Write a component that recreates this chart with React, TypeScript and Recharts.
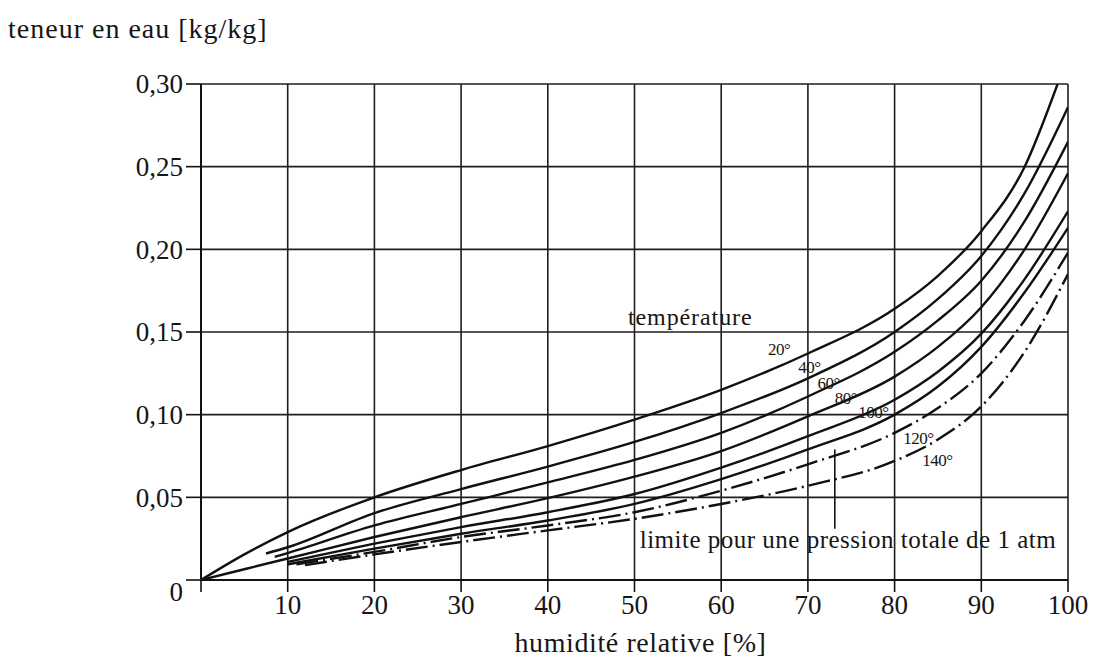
import React from "react";
import {
  LineChart,
  Line,
  XAxis,
  YAxis,
  CartesianGrid,
  ReferenceDot,
  ReferenceLine,
} from "recharts";

// humidité relative [%] / teneur en eau [kg/kg]
const rhTicks = [0, 10, 20, 30, 40, 50, 60, 70, 80, 90, 100];
const wTicks = [0, 0.05, 0.1, 0.15, 0.2, 0.25, 0.3];

const rhCommon = [20, 30, 40, 50, 60, 70, 80, 85, 90, 95, 100];

const rh20 = [0, 5, 10, ...rhCommon.slice(0, -1), 98.8];
const w20 = [0, 0.0155, 0.029, 0.05, 0.0665, 0.081, 0.097, 0.115, 0.137, 0.164, 0.184, 0.211, 0.25, 0.3];

const rh40 = [7.5, 10, ...rhCommon];
const w40 = [0.016, 0.0198, 0.0405, 0.055, 0.0686, 0.0835, 0.101, 0.122, 0.15, 0.17, 0.196, 0.234, 0.286];

const rh60 = [8.5, 10, ...rhCommon];
const w60 = [0.014, 0.0163, 0.033, 0.046, 0.059, 0.0726, 0.089, 0.111, 0.138, 0.157, 0.181, 0.217, 0.265];

const rh80 = [0, 10, ...rhCommon];
const w80 = [0, 0.013, 0.026, 0.038, 0.0495, 0.0625, 0.078, 0.099, 0.123, 0.141, 0.165, 0.2, 0.246];

const rh100 = [10, ...rhCommon];
const w100 = [0.011, 0.022, 0.032, 0.041, 0.052, 0.068, 0.087, 0.109, 0.126, 0.149, 0.182, 0.223];

const rhLimit = [10, ...rhCommon];
const wLimit = [0.0095, 0.019, 0.028, 0.036, 0.046, 0.061, 0.079, 0.1, 0.117, 0.141, 0.174, 0.213];

const rh120 = [11, ...rhCommon];
const w120 = [0.0095, 0.017, 0.026, 0.033, 0.041, 0.054, 0.07, 0.089, 0.104, 0.125, 0.157, 0.198];

const rh140 = [12, ...rhCommon];
const w140 = [0.009, 0.0155, 0.023, 0.03, 0.037, 0.046, 0.057, 0.072, 0.085, 0.105, 0.138, 0.185];

// étiquettes des courbes: [texte, rh, w]
const tempLabels: [string, number, number][] = [
  ["20°", 65.4, 0.136],
  ["40°", 68.9, 0.125],
  ["60°", 71.1, 0.1155],
  ["80°", 73.1, 0.1065],
  ["100°", 75.8, 0.098],
  ["120°", 81.0, 0.0823],
  ["140°", 83.2, 0.069],
];
const leaderRh = 73.1;
const leaderW = [0.031, 0.079];

const toPoints = (xs: number[], ys: number[]) => xs.map((rh, i) => ({ rh, w: ys[i] }));

const curves = [
  { name: "20°", data: toPoints(rh20, w20), dash: undefined },
  { name: "40°", data: toPoints(rh40, w40), dash: undefined },
  { name: "60°", data: toPoints(rh60, w60), dash: undefined },
  { name: "80°", data: toPoints(rh80, w80), dash: undefined },
  { name: "100°", data: toPoints(rh100, w100), dash: undefined },
  { name: "limite", data: toPoints(rhLimit, wLimit), dash: undefined },
  { name: "120°", data: toPoints(rh120, w120), dash: "22 5 2 5" },
  { name: "140°", data: toPoints(rh140, w140), dash: "22 5 2 5" },
];

const FONT = "'Liberation Serif', 'Times New Roman', serif";
const INK = "#161616";

const XTick = ({ x, y, payload }: any) =>
  payload.value === 0 ? null : (
    <text x={x} y={y} dy="0.71em" textAnchor="middle" fontFamily={FONT} fontSize={27} fill={INK}>
      {payload.value}
    </text>
  );

const YTick = ({ x, y, payload }: any) => (
  <text
    x={x}
    y={payload.value === 0 ? y + 12 : y}
    dy="0.35em"
    textAnchor="end"
    fontFamily={FONT}
    fontSize={27}
    fill={INK}
  >
    {payload.value === 0 ? "0" : payload.value.toFixed(2).replace(".", ",")}
  </text>
);

const textAt = (label: string, size: number, spacing = 0) => (p: any) => (
  <text x={p.cx} y={p.cy} fontFamily={FONT} fontSize={size} letterSpacing={spacing} fill={INK}>
    {label}
  </text>
);

export default function App() {
  return (
    <div style={{ position: "absolute", left: 0, top: 0, width: 1097, height: 657, background: "#fff" }}>
      <LineChart width={1097} height={657} margin={{ top: 84, right: 29, bottom: 0, left: 0 }}>
        <CartesianGrid stroke="#1e1e1e" strokeWidth={1.6} />
        <XAxis
          type="number"
          dataKey="rh"
          domain={[0, 100]}
          ticks={rhTicks}
          height={77}
          tickSize={12}
          tickMargin={3}
          tick={<XTick />}
          axisLine={{ stroke: "#111", strokeWidth: 2 }}
          tickLine={{ stroke: "#111", strokeWidth: 1.6 }}
          allowDataOverflow
          label={{
            content: (p: any) => (
              <text
                x={p.viewBox.x + p.viewBox.width / 2 + 6}
                y={p.viewBox.y + 72}
                textAnchor="middle"
                fontFamily={FONT}
                fontSize={28}
                letterSpacing={0.6}
                fill={INK}
              >
                humidité relative [%]
              </text>
            ),
          }}
        />
        <YAxis
          type="number"
          domain={[0, 0.3]}
          ticks={wTicks}
          width={201}
          tickSize={15}
          tickMargin={3}
          tick={<YTick />}
          axisLine={{ stroke: "#111", strokeWidth: 2 }}
          tickLine={{ stroke: "#111", strokeWidth: 1.6 }}
          allowDataOverflow
          label={{
            content: (p: any) => (
              <text x={8} y={p.viewBox.y - 46} fontFamily={FONT} fontSize={28} letterSpacing={1} fill={INK}>
                teneur en eau [kg/kg]
              </text>
            ),
          }}
        />
        {curves.map((c) => (
          <Line
            key={c.name}
            data={c.data}
            dataKey="w"
            type="monotone"
            stroke="#111"
            strokeWidth={2.4}
            strokeDasharray={c.dash}
            dot={false}
            activeDot={false}
            isAnimationActive={false}
          />
        ))}
        <ReferenceLine
          segment={[
            { x: leaderRh, y: leaderW[0] },
            { x: leaderRh, y: leaderW[1] },
          ]}
          stroke="#111"
          strokeWidth={1.6}
        />
        <ReferenceDot x={49.25} y={0.1543} r={0} shape={textAt("température", 24, 0.9)} />
        {tempLabels.map(([t, x, y]) => (
          <ReferenceDot key={t} x={x} y={y} r={0} shape={textAt(t, 17, -0.5)} />
        ))}
        <ReferenceDot
          x={50.6}
          y={0.0194}
          r={0}
          shape={textAt("limite pour une pression totale de 1 atm", 25, 0.5)}
        />
      </LineChart>
    </div>
  );
}
